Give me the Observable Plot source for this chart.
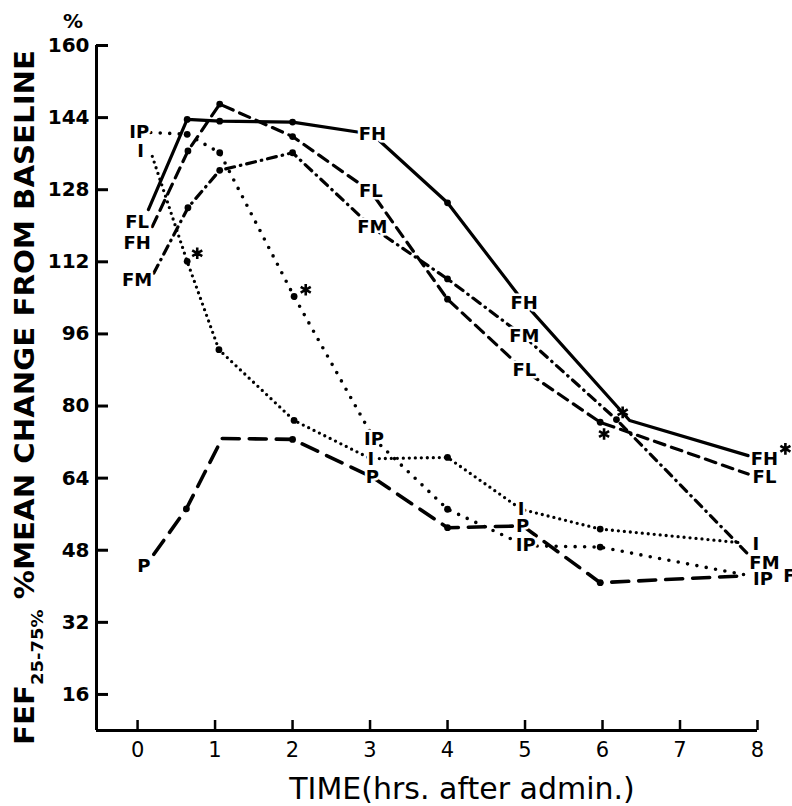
<!DOCTYPE html>
<html><head><meta charset="utf-8">
<script src="https://cdn.jsdelivr.net/npm/d3@7"></script>
<script src="https://cdn.jsdelivr.net/npm/@observablehq/plot@0.6"></script>
<style>body{margin:0;background:#fff}#chart{width:792px;height:806px}</style>
</head><body><div id="chart"></div>
<script>
// ---- axis ticks ----
const yTicks = [16, 32, 48, 64, 80, 96, 112, 128, 144, 160];
const xTicks = [0, 1, 2, 3, 4, 5, 6, 7, 8];
const xMin = -0.53, xMax = 8, yMin = 8, yMax = 160;

// ---- series (time in hrs, % mean change), dot = drawn marker ----
const fhTime  = [0.14, 0.64, 1.06, 2.0, 3.03, 4.0, 4.99, 6.35, 7.88];
const fhValue = [123.6, 143.6, 143.2, 143.0, 140.3, 125.1, 102.9, 76.8, 69.0];
const fhDot   = [0, 1, 1, 1, 0, 1, 0, 0, 0];

const flTime  = [0.19, 0.65, 1.06, 2.0, 3.01, 4.0, 4.99, 5.97, 7.88];
const flValue = [119.8, 136.6, 147.0, 139.8, 127.6, 103.7, 87.9, 76.4, 64.9];
const flDot   = [0, 1, 1, 1, 0, 1, 0, 1, 0];

const fmTime  = [0.21, 0.65, 1.06, 2.0, 3.03, 4.0, 4.99, 6.18, 7.88];
const fmValue = [109.5, 124.0, 132.3, 136.2, 119.6, 108.2, 95.4, 77.0, 47.1];
const fmDot   = [0, 1, 1, 1, 0, 1, 0, 1, 0];

const pTime   = [0.21, 0.63, 1.09, 2.0, 3.03, 4.0, 4.97, 5.97, 7.8];
const pValue  = [47.1, 57.2, 72.8, 72.6, 64.2, 53.0, 53.4, 40.8, 42.3];
const pDot    = [0, 1, 0, 1, 0, 1, 0, 1, 0];

const ipTime  = [0.17, 0.64, 1.06, 2.02, 3.05, 4.0, 5.01, 5.97, 7.85];
const ipValue = [140.7, 140.3, 136.2, 104.3, 72.7, 57.1, 49.0, 48.7, 42.5];
const ipDot   = [0, 1, 1, 1, 0, 1, 0, 1, 0];

const iTime   = [0.19, 0.64, 1.05, 2.02, 3.01, 4.0, 4.95, 5.97, 7.82];
const iValue  = [135.4, 112.1, 92.5, 76.8, 68.3, 68.6, 57.1, 52.7, 49.6];
const iDot    = [0, 1, 1, 1, 0, 1, 0, 1, 0];

// ---- in-chart labels ----
const labelText  = ["FL","FH","FM","P","IP","I",
                    "FH","FL","FM","P","IP","I",
                    "FH","FL","FM","P","IP","I",
                    "FH","FL","FM","IP","I","F"];
const labelTime  = [-0.005,-0.005,-0.005,0.08,0.02,0.04,
                    3.03,3.01,3.03,3.03,3.05,3.01,
                    4.99,4.99,4.99,4.97,5.01,4.95,
                    8.09,8.09,8.09,8.07,7.98,8.41];
const labelValue = [120.7,116.2,108.0,44.5,140.7,136.6,
                    140.3,127.6,119.6,64.2,72.7,68.3,
                    102.9,87.9,95.4,53.4,49.0,57.1,
                    68.3,64.2,45.2,41.5,49.3,42.3];

// ---- significance asterisks ----
const starTime  = [0.77, 2.17, 6.26, 6.02, 8.36];
const starValue = [113.9, 105.8, 78.6, 73.8, 70.5];

const build = (t, v, d) => t.map((x, i) => ({x, y: v[i], dot: d[i]}));
const FH = build(fhTime, fhValue, fhDot);
const FL = build(flTime, flValue, flDot);
const FM = build(fmTime, fmValue, fmDot);
const P  = build(pTime, pValue, pDot);
const IP = build(ipTime, ipValue, ipDot);
const I  = build(iTime, iValue, iDot);
const allDots = [...FH, ...FL, ...FM, ...P, ...IP, ...I].filter(d => d.dot);
const labels = labelText.map((s, i) => ({s, x: labelTime[i], y: labelValue[i]}));
const stars = starTime.map((x, i) => ({x, y: starValue[i]}));

const pxPerX = (757 - 96) / (xMax - xMin);
const pxPerY = (730 - 45) / (yMax - yMin);

const lineOpt = {x: "x", y: "y", stroke: "black", strokeWidth: 3.2};

const chart = Plot.plot({
  width: 792, height: 806,
  marginLeft: 96, marginRight: 35, marginTop: 45, marginBottom: 76,
  x: {domain: [xMin, xMax], axis: null},
  y: {domain: [yMin, yMax], axis: null},
  style: {fontFamily: "DejaVu Sans", background: "white", color: "black"},
  marks: [
    Plot.ruleX([xMin], {stroke: "black", strokeWidth: 3}),
    Plot.ruleY([yMin], {stroke: "black", strokeWidth: 3}),
    Plot.ruleY(yTicks, {y: d => d, x1: xMin, x2: xMin + 12 / pxPerX, stroke: "black", strokeWidth: 3}),
    Plot.ruleX(xTicks, {x: d => d, y1: yMin, y2: yMin + 10 / pxPerY, stroke: "black", strokeWidth: 2.5}),
    Plot.text(yTicks, {x: xMin, y: d => d, text: d => String(d), textAnchor: "end", dx: -7, fontSize: 20, fontWeight: "bold"}),
    Plot.text(xTicks, {x: d => d, y: yMin, text: d => String(d), dy: 20, fontSize: 21}),

    Plot.line(FH, {...lineOpt}),
    Plot.line(FL, {...lineOpt, strokeDasharray: "11 7"}),
    Plot.line(FM, {...lineOpt, strokeDasharray: "9 6 0.5 6", strokeLinecap: "round"}),
    Plot.line(P,  {...lineOpt, strokeWidth: 3.6, strokeDasharray: "17 10"}),
    Plot.line(IP, {...lineOpt, strokeWidth: 3.6, strokeDasharray: "0 9.5", strokeLinecap: "round"}),
    Plot.line(I,  {...lineOpt, strokeWidth: 3.3, strokeDasharray: "0 6", strokeLinecap: "round"}),

    Plot.dot(allDots, {x: "x", y: "y", r: 3.4, fill: "black"}),
    Plot.dot(stars, {x: "x", y: "y", symbol: "asterisk", r: 5.5, stroke: "black", strokeWidth: 2.6}),

    Plot.text(labels, {x: "x", y: "y", text: "s", fontSize: 18, fontWeight: "bold", fill: "black",
      stroke: "white", strokeWidth: 5, paintOrder: "stroke"})
  ]
});

const svg = d3.select(chart);
svg.style("overflow", "visible");
// "%" above y axis
svg.append("text").attr("x", 73).attr("y", 28).attr("text-anchor", "middle")
  .attr("font-family", "DejaVu Sans").attr("font-weight", "bold").attr("font-size", 20).text("%");
// y axis title with subscript
const yt = svg.append("text")
  .attr("transform", "translate(34,745) rotate(-90)")
  .attr("text-anchor", "start")
  .attr("font-family", "DejaVu Sans").attr("font-weight", "bold").attr("font-size", 26)
  .attr("textLength", 695).attr("lengthAdjust", "spacingAndGlyphs");
yt.append("tspan").text("FEF");
yt.append("tspan").attr("font-size", 16).attr("dy", 9).text("25-75%");
yt.append("tspan").attr("dy", -9).text(" %MEAN CHANGE FROM BASELINE");
// x axis title
svg.append("text").attr("x", 462).attr("y", 799).attr("text-anchor", "middle")
  .attr("font-family", "DejaVu Sans").attr("font-size", 30).text("TIME(hrs. after admin.)");

document.getElementById("chart").appendChild(chart);
</script></body></html>
